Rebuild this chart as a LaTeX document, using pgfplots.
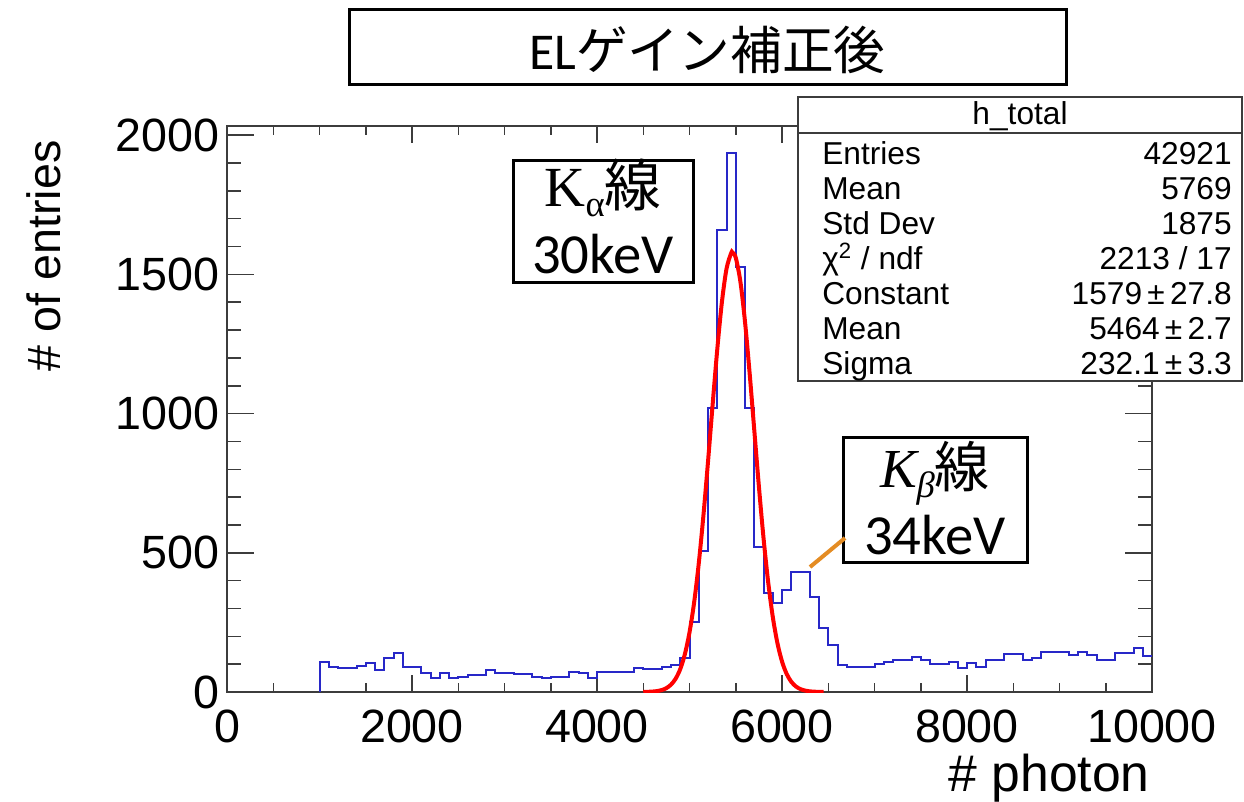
\documentclass[border=0pt]{standalone}
\usepackage{pgfplots}
\pgfplotsset{compat=1.18}
\usepackage{fontspec}
\setmainfont{Liberation Sans}
\newfontfamily\cjk{Noto Sans CJK JP}
\newfontfamily\calib{Carlito}
\newfontfamily\tnr{Liberation Serif}
\definecolor{hblue}{RGB}{40,40,200}
\definecolor{fitred}{RGB}{255,0,0}
\definecolor{conn}{RGB}{228,140,35}
\definecolor{frame}{RGB}{60,60,60}

\begin{document}
\begin{tikzpicture}
\useasboundingbox (0,0) rectangle (746.4pt,-481.2pt);
\begin{axis}[
  at={(136.2pt,-415.2pt)}, anchor=south west,
  scale only axis, width=555pt, height=339.6pt,
  xmin=0, xmax=10000, ymin=0, ymax=2033,
  xtick={0,2000,...,10000}, ytick={0,500,...,2000},
  minor x tick num=3, minor y tick num=4,
  scaled ticks=false,
  axis line style={line width=1.2pt, draw=frame},
  tick style={line width=0.9pt, draw=frame},
  major tick length=10.2pt, minor tick length=5.4pt,
  ytick style={/pgfplots/major tick length=16.2pt, /pgfplots/minor tick length=8.4pt},
  /pgf/number format/assume math mode=true,
  /pgf/number format/1000 sep={},
  ticklabel style={font=\fontsize{28}{28}\selectfont},
  xticklabel style={yshift=-7pt},
  yticklabel style={xshift=-1pt},
]
\addplot[const plot, hblue, line width=1.2pt] coordinates {
(1000,0) (1000,109) (1100,91) (1200,85) (1300,88) (1400,93) (1500,103) (1600,79) (1700,121) (1800,139) (1900,91)
(2000,91) (2100,69) (2200,49) (2300,67) (2400,49) (2500,55) (2600,61) (2700,61) (2800,79) (2900,69)
(3000,69) (3100,65) (3200,65) (3300,55) (3400,49) (3500,55) (3600,55) (3700,73) (3800,67) (3900,49)
(4000,73) (4100,73) (4200,73) (4300,73) (4400,87) (4500,81) (4600,81) (4700,91) (4800,97) (4900,121)
(5000,253) (5100,506) (5200,1019) (5300,1659) (5400,1937) (5500,1525) (5600,1019) (5700,522) (5800,354) (5900,318)
(6000,366) (6100,430) (6200,430) (6300,342) (6400,229) (6500,169) (6600,98) (6700,91) (6800,91) (6900,91)
(7000,101) (7100,109) (7200,115) (7300,115) (7400,127) (7500,115) (7600,99) (7700,99) (7800,109) (7900,85)
(8000,103) (8100,91) (8200,115) (8300,115) (8400,135) (8500,135) (8600,115) (8700,123) (8800,142) (8900,142)
(9000,142) (9100,133) (9200,142) (9300,133) (9400,115) (9500,115) (9600,139) (9700,139) (9800,157) (9900,130)
(10000,130)
};
\addplot[fitred, line width=2.4pt, smooth] coordinates {
(4500,0.3) (4550,0.7) (4600,1.6) (4650,3.4) (4700,7.0) (4750,13.9) (4800,26.4) (4850,47.7) (4900,82.4) (4950,136.0)
(5000,214.1) (5050,321.7) (5100,461.6) (5150,632.4) (5200,826.9) (5250,1032.2) (5300,1230.2) (5350,1399.6) (5400,1520.1) (5450,1576.1)
(5464,1579) (5500,1560.1) (5550,1474.2) (5600,1329.9) (5650,1145.3) (5700,941.7) (5750,739.1) (5800,553.7) (5850,396.1) (5900,270.5)
(5950,176.3) (6000,109.8) (6050,65.2) (6100,37.0) (6150,20.0) (6200,10.3) (6250,5.1) (6300,2.4) (6350,1.1) (6400,0.5) (6450,0.2)
};
\end{axis}
\begin{scope}[x=0.6pt,y=-0.6pt]
% title
\draw[line width=1.8pt] (349,10) rectangle (1066,85);
\node[anchor=base] at (707.5,70) {\fontsize{31}{31}\selectfont\calib EL\cjk ゲイン補正後};
% stats box
\draw[line width=1.2pt, draw=frame, fill=white] (798,97) rectangle (1242,381);
\draw[line width=1.2pt, draw=frame] (798,133) -- (1242,133);
\begin{scope}[every node/.style={font=\fontsize{19}{19}\selectfont, inner sep=0pt}]
\node[anchor=base] at (1020,124) {h\_total};
\node[anchor=base west] at (822,164) {Entries};
\node[anchor=base west] at (822,199) {Mean};
\node[anchor=base west] at (822,234) {Std Dev};
\node[anchor=base west] at (822,269) {χ\textsuperscript{2} / ndf};
\node[anchor=base west] at (822,304) {Constant};
\node[anchor=base west] at (822,339) {Mean};
\node[anchor=base west] at (822,374) {Sigma};
\node[anchor=base east] at (1232,164) {42921};
\node[anchor=base east] at (1232,199) {5769};
\node[anchor=base east] at (1232,234) {1875};
\node[anchor=base east] at (1232,269) {2213 / 17};
\node[anchor=base east] at (1232,304) {1579\,±\,27.8};
\node[anchor=base east] at (1232,339) {5464\,±\,2.7};
\node[anchor=base east] at (1232,374) {232.1\,±\,3.3};
\end{scope}
% K alpha box
\draw[line width=1.8pt, fill=white] (513,160) rectangle (693,282);
\node[anchor=base, inner sep=0pt] at (603,206) {\fontsize{34}{34}\selectfont\tnr K\raisebox{-6pt}{\fontsize{22}{22}\selectfont α}\cjk 線};
\node[anchor=base, inner sep=0pt] at (603,273) {\fontsize{34}{34}\selectfont\calib 30keV};
% K beta box
\draw[line width=1.8pt, fill=white] (843,437) rectangle (1027,562);
\node[anchor=base, inner sep=0pt] at (935,487) {\fontsize{33}{33}\selectfont\tnr\itshape K\raisebox{-6pt}{\fontsize{22}{22}\selectfont β}\upshape\cjk 線};
\node[anchor=base, inner sep=0pt] at (935,554) {\fontsize{34}{34}\selectfont\calib 34keV};
\draw[conn, line width=2.4pt] (810,567) -- (845,538);
% axis titles
\node[anchor=base east, inner sep=0pt] at (1150,791) {\fontsize{31}{31}\selectfont \# photon};
\node[anchor=base east, rotate=90, inner sep=0pt] at (60,140) {\fontsize{28}{28}\selectfont \# of entries};
\end{scope}
\end{tikzpicture}
\end{document}
